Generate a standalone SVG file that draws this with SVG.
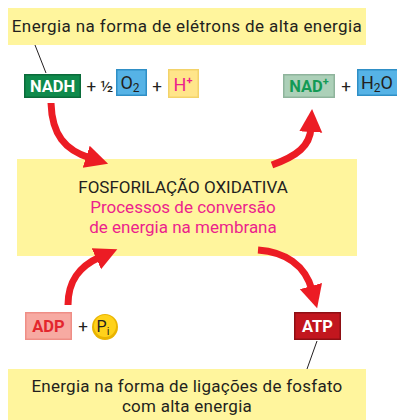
<svg xmlns="http://www.w3.org/2000/svg" width="397" height="420" viewBox="0 0 397 420">
<defs>
<style>
text{font-family:Roboto,"Liberation Sans",sans-serif;}
.lbl{font-size:17px;fill:#231f20;text-anchor:middle;}
.plus{font-size:17px;fill:#231f20;text-anchor:middle;}
.yel{fill:#fff59d;}
.arr{fill:none;stroke:#ec1c24;stroke-width:7;}
.lead{stroke:#231f20;stroke-width:1;fill:none;}
.bt{font-weight:bold;font-size:16.5px;text-anchor:middle;}
.mid{font-size:17px;text-anchor:middle;}
</style>
<marker id="ah" markerUnits="userSpaceOnUse" markerWidth="25" markerHeight="25" refX="4" refY="12.5" orient="auto" viewBox="0 0 25 25">
<path d="M0,1 L23,12.5 L0,24 Z" fill="#ec1c24"/>
</marker>
</defs>

<g id="top-label">
<rect class="yel" x="8" y="8" width="358" height="37"/>
<text class="lbl" x="187" y="32" letter-spacing="0.4">Energia na forma de elétrons de alta energia</text>
</g>

<g id="NADH">
<rect x="24" y="74" width="57" height="24" fill="#0a6b3a"/>
<rect x="25.5" y="75.5" width="54" height="21" fill="#0f8a4c"/>
<text class="bt" x="52.5" y="92" fill="#ffffff">NADH</text>
</g>
<text class="plus" x="100" y="92">+ ½</text>
<g id="O2">
<rect x="116" y="69" width="31" height="27" fill="#2f8fc6"/>
<rect x="117.5" y="70.5" width="28" height="24" fill="#56b3e6"/>
<text x="130" y="89" font-size="18" fill="#231f20" text-anchor="middle">O<tspan font-size="12" dy="3">2</tspan></text>
</g>
<text class="plus" x="157" y="92">+</text>
<g id="Hplus">
<rect x="168" y="69" width="31" height="29" fill="#f3d36a"/>
<rect x="169.5" y="70.5" width="28" height="26" fill="#ffe58a"/>
<text x="183" y="91" font-size="18" fill="#ec1f8c" text-anchor="middle">H<tspan font-size="11" font-weight="bold" dy="-7">+</tspan></text>
</g>

<g id="NADplus">
<rect x="283" y="74" width="52" height="24" fill="#8fb49c"/>
<rect x="284.5" y="75.5" width="49" height="21" fill="#acd0b8"/>
<text x="309" y="92" font-size="16.5" font-weight="bold" fill="#139a55" text-anchor="middle">NAD<tspan font-size="11" dy="-7">+</tspan></text>
</g>
<text class="plus" x="346" y="92">+</text>
<g id="H2O">
<rect x="357" y="69" width="42" height="27" fill="#2f8fc6"/>
<rect x="358.5" y="70.5" width="39" height="24" fill="#56b3e6"/>
<text x="377" y="89" font-size="18" fill="#231f20" text-anchor="middle">H<tspan font-size="12" dy="3">2</tspan><tspan dy="-3">O</tspan></text>
</g>

<g id="process">
<rect class="yel" x="17" y="159" width="340" height="97"/>
<text class="mid" x="183" y="193" fill="#231f20">FOSFORILAÇÃO OXIDATIVA</text>
<text class="mid" x="183" y="213" fill="#ec1f8c">Processos de conversão</text>
<text class="mid" x="183" y="233" fill="#ec1f8c">de energia na membrana</text>
</g>

<g id="ADP">
<rect x="25" y="312" width="47" height="28" fill="#ef8e86"/>
<rect x="26.5" y="313.5" width="44" height="25" fill="#f7aaa2"/>
<text class="bt" x="48.5" y="332" fill="#e3262d">ADP</text>
</g>
<text class="plus" x="83" y="332">+</text>
<g id="Pi">
<circle cx="105" cy="327" r="13" fill="#e9b400"/>
<circle cx="105" cy="326" r="11" fill="#ffd21a"/>
<text x="103" y="332" font-size="16" fill="#231f20" text-anchor="middle">P<tspan font-size="11" dy="3">i</tspan></text>
</g>

<g id="ATP">
<rect x="294" y="312" width="47" height="28" fill="#8e0f14"/>
<rect x="295.5" y="313.5" width="44" height="25" fill="#c2161e"/>
<text class="bt" x="317.5" y="332" fill="#ffffff">ATP</text>
</g>

<g id="bottom-label">
<rect class="yel" x="8" y="369" width="358" height="51"/>
<text class="lbl" x="187" y="392" letter-spacing="0.25">Energia na forma de ligações de fosfato</text>
<text class="lbl" x="187" y="412" letter-spacing="0.25">com alta energia</text>
</g>

<g id="connectors">
<path class="lead" d="M35,45 L46,73"/>
<path class="lead" d="M317,341 L307,369"/>
<path class="arr" marker-end="url(#ah)" d="M51,103 C52,135 65,150 90,158"/>
<path class="arr" marker-end="url(#ah)" d="M272,165 C297,156 310,146 311,128"/>
<path class="arr" marker-end="url(#ah)" d="M68,305 C68,280 80,266 100,257"/>
<path class="arr" marker-end="url(#ah)" d="M258,250 C285,252 305,265 312,290"/>
</g>
</svg>
